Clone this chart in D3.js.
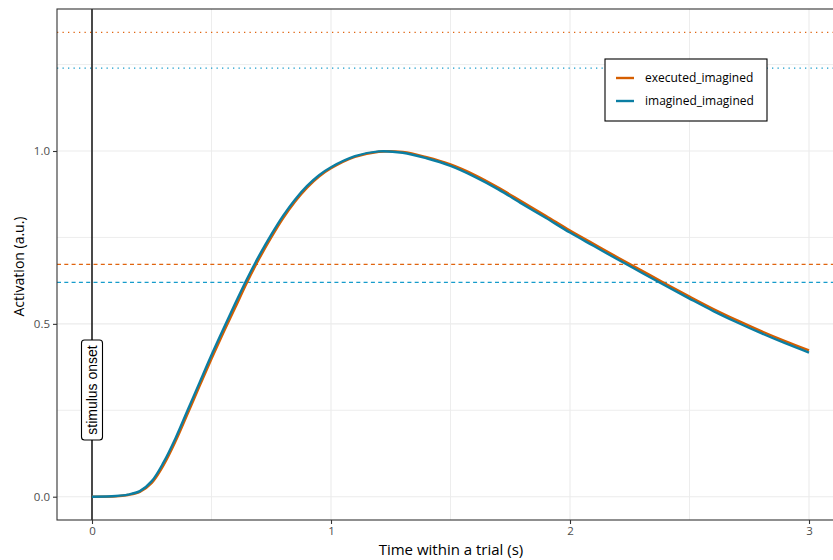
<!DOCTYPE html>
<html>
<head>
<meta charset="utf-8">
<script src="https://cdn.jsdelivr.net/npm/d3@7"></script>
<style>
  body { margin: 0; background: #fff; }
  svg { display: block; }
</style>
</head>
<body>
<div id="chart"></div>
<script>
// time points (s) and read-off activation values
var times = [0, 0.1, 0.15, 0.2, 0.25, 0.3, 0.35, 0.4, 0.45, 0.5, 0.55, 0.6, 0.65, 0.7, 0.75,
             0.8, 0.85, 0.9, 0.95, 1.0, 1.1, 1.2, 1.3, 1.4, 1.5, 1.6, 1.7, 1.8, 1.9, 2.0,
             2.1, 2.2, 2.3, 2.4, 2.5, 2.6, 2.7, 2.8, 2.9, 3.0]
var executedImagined = [0, 0.001, 0.005, 0.014, 0.040, 0.092, 0.161, 0.240, 0.320, 0.399, 0.475, 0.548, 0.622, 0.689, 0.750,
                        0.806, 0.854, 0.894, 0.926, 0.950, 0.983, 0.998, 0.997, 0.982, 0.961, 0.931, 0.894, 0.853, 0.812, 0.770,
                        0.731, 0.692, 0.654, 0.616, 0.579, 0.543, 0.510, 0.479, 0.450, 0.423]
var imaginedImagined = [0, 0.002, 0.006, 0.016, 0.045, 0.100, 0.170, 0.250, 0.330, 0.410, 0.486, 0.560, 0.632, 0.698, 0.758,
                        0.813, 0.860, 0.899, 0.930, 0.953, 0.985, 0.999, 0.995, 0.979, 0.957, 0.926, 0.889, 0.847, 0.806, 0.764,
                        0.725, 0.686, 0.648, 0.610, 0.573, 0.537, 0.504, 0.473, 0.444, 0.417]
var seriesNames = ["executed_imagined", "imagined_imagined"]
var seriesColors = ["#D55E00", "#0B7EA3"]
var refColors = ["#E0640F", "#169CCB"]
// threshold lines per series
var dashedLevels = [0.672, 0.620]
var dottedLevels = [1.343, 1.240]
var xTicks = [0, 1, 2, 3]
var yTicks = [0, 0.5, 1.0]

function init() {
    var w = 833
    var h = 560
    var left = 57, right = 834, top = 9, bottom = 520
    var font = "'Open Sans', 'Noto Sans', sans-serif"

    var svg = d3.select("#chart").append("svg")
        .attr("width", w)
        .attr("height", h)

    var x = d3.scaleLinear().domain([0, 3]).range([92, 809])
    var y = d3.scaleLinear().domain([0, 1]).range([496.7, 151])

    // grid
    var grid = svg.append("g")
    grid.selectAll(".gx")
        .data(d3.range(0, 3.01, 0.5))
        .enter().append("line")
        .attr("x1", d => x(d)).attr("x2", d => x(d))
        .attr("y1", top).attr("y2", bottom)
        .attr("stroke", "#ebebeb").attr("stroke-width", d => d % 1 === 0 ? 1.1 : 0.9)
    grid.selectAll(".gy")
        .data(d3.range(0, 1.26, 0.25))
        .enter().append("line")
        .attr("x1", left).attr("x2", right)
        .attr("y1", d => y(d)).attr("y2", d => y(d))
        .attr("stroke", "#ebebeb").attr("stroke-width", d => (d * 2) % 1 === 0 ? 1.1 : 0.9)

    // threshold lines
    dashedLevels.forEach((v, i) => {
        svg.append("line")
            .attr("x1", left).attr("x2", right)
            .attr("y1", y(v)).attr("y2", y(v))
            .attr("stroke", refColors[i])
            .attr("stroke-width", 1.2)
            .attr("stroke-dasharray", "4,3.3")
    })
    dottedLevels.forEach((v, i) => {
        svg.append("line")
            .attr("x1", left).attr("x2", right)
            .attr("y1", y(v)).attr("y2", y(v))
            .attr("stroke", refColors[i])
            .attr("stroke-width", 1.3)
            .attr("stroke-dasharray", "1.3,4.2")
    })

    // stimulus onset line
    svg.append("line")
        .attr("x1", x(0)).attr("x2", x(0))
        .attr("y1", top).attr("y2", bottom)
        .attr("stroke", "#000").attr("stroke-width", 1.4)

    // curves
    var line = d3.line()
        .x((d, i) => x(times[i]))
        .y(d => y(d))
        .curve(d3.curveCatmullRom.alpha(0.5))
    ;[executedImagined, imaginedImagined].forEach((vals, i) => {
        svg.append("path")
            .attr("d", line(vals))
            .attr("fill", "none")
            .attr("stroke", seriesColors[i])
            .attr("stroke-width", 2.4)
    })

    // onset label
    var lab = svg.append("g").attr("transform", `translate(${x(0)},390) rotate(-90)`)
    lab.append("rect")
        .attr("x", -50).attr("y", -10.5)
        .attr("width", 100).attr("height", 21)
        .attr("rx", 3)
        .attr("fill", "#fff").attr("stroke", "#000").attr("stroke-width", 1.1)
    lab.append("text")
        .text("stimulus onset")
        .attr("text-anchor", "middle")
        .attr("dy", "0.35em")
        .style("font-family", "'Liberation Sans', Arial, sans-serif")
        .style("font-size", "14px")

    // panel border
    svg.append("rect")
        .attr("x", left).attr("y", top)
        .attr("width", right - left).attr("height", bottom - top)
        .attr("fill", "none").attr("stroke", "#333").attr("stroke-width", 1.1)

    // axes
    var xAxis = svg.append("g")
        .attr("transform", `translate(0,${bottom})`)
        .call(d3.axisBottom(x).tickValues(xTicks).tickFormat(d3.format("d")).tickSize(4).tickPadding(3))
    var yAxis = svg.append("g")
        .attr("transform", `translate(${left},0)`)
        .call(d3.axisLeft(y).tickValues(yTicks).tickFormat(d3.format(".1f")).tickSize(4).tickPadding(3))
    ;[xAxis, yAxis].forEach(a => {
        a.select(".domain").remove()
        a.selectAll(".tick line").attr("stroke", "#333").attr("stroke-width", 1.1)
        a.selectAll("text")
            .attr("fill", "#4d4d4d")
            .style("font-family", font)
            .style("font-size", "11.5px")
    })

    // axis titles
    svg.append("text")
        .text("Time within a trial (s)")
        .attr("x", 451).attr("y", 555)
        .attr("text-anchor", "middle")
        .style("font-family", font)
        .style("font-size", "15px")
    svg.append("text")
        .text("Activation (a.u.)")
        .attr("transform", `translate(24,${(top + bottom) / 2 + 2}) rotate(-90)`)
        .attr("text-anchor", "middle")
        .style("font-family", font)
        .style("font-size", "14px")

    // legend
    var leg = svg.append("g").attr("transform", "translate(605,59)")
    leg.append("rect")
        .attr("width", 162).attr("height", 62)
        .attr("fill", "#fff").attr("stroke", "#000").attr("stroke-width", 1.1)
    seriesNames.forEach((name, i) => {
        var yy = 19 + i * 23
        leg.append("line")
            .attr("x1", 11).attr("x2", 29)
            .attr("y1", yy).attr("y2", yy)
            .attr("stroke", seriesColors[i]).attr("stroke-width", 2.4)
        leg.append("text")
            .text(name)
            .attr("x", 40).attr("y", yy)
            .attr("dy", "0.35em")
            .style("font-family", font)
            .style("font-size", "12px")
            .attr("fill", "#000")
    })
}

window.onload = init;
</script>
</body>
</html>
